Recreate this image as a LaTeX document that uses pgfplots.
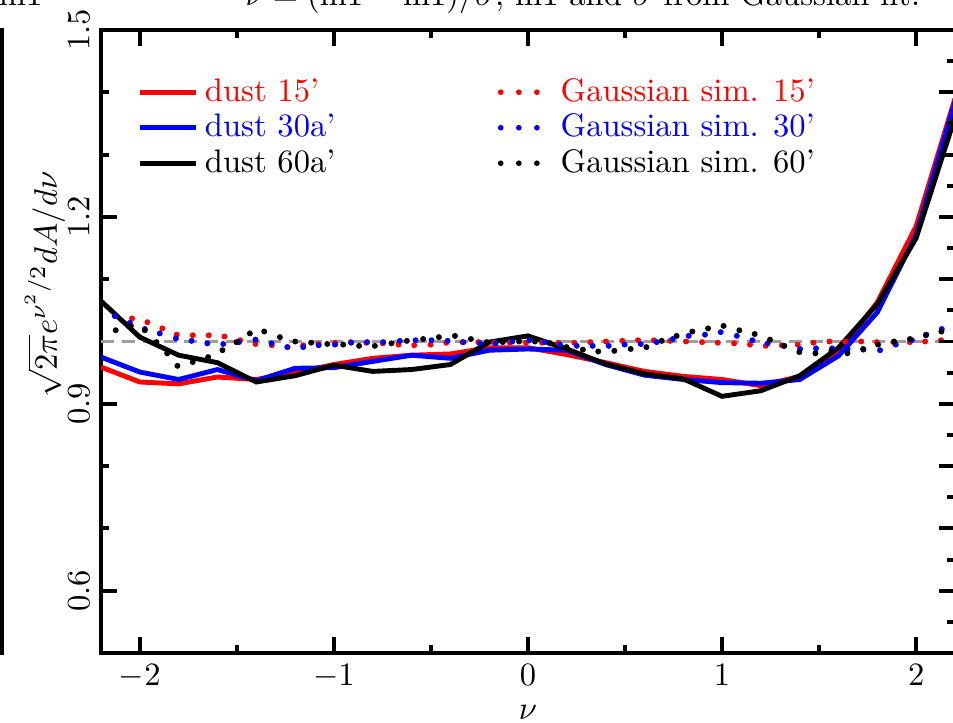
\documentclass[border=0pt]{standalone}
\usepackage{pgfplots}
\pgfplotsset{compat=1.18}
\usepackage{pgfplotstable}

% Dust area functional, three smoothing scales
\pgfplotstableread{
nu    d15    d30    d60
-2.2  0.959  0.975  1.065
-2.0  0.935  0.951  1.007
-1.8  0.932  0.939  0.978
-1.6  0.943  0.955  0.966
-1.4  0.939  0.937  0.935
-1.2  0.950  0.957  0.945
-1.0  0.963  0.958  0.962
-0.8  0.973  0.968  0.952
-0.6  0.978  0.978  0.955
-0.4  0.980  0.973  0.963
-0.2  0.990  0.986  0.999
 0.0  0.990  0.988  1.009
 0.2  0.979  0.986  0.988
 0.4  0.966  0.963  0.964
 0.6  0.952  0.946  0.948
 0.8  0.944  0.939  0.940
 1.0  0.939  0.934  0.912
 1.2  0.929  0.933  0.921
 1.4  0.944  0.939  0.945
 1.6  0.982  0.977  0.990
 1.8  1.063  1.047  1.060
 2.0  1.185  1.171  1.166
 2.2  1.390  1.385  1.360
}\dust

% Gaussian simulations, 15'
\pgfplotstableread{
nu     a
-2.129 1.041
-2.040 1.037
-1.961 1.031
-1.884 1.021
-1.810 1.011
-1.727 1.010
-1.645 1.010
-1.564 1.008
-1.483 1.002
-1.404 0.996
-1.320 0.994
-1.239 0.991
-1.158 0.994
-1.080 0.996
-0.994 0.998
-0.913 0.999
-0.833 0.998
-0.748 0.997
-0.667 0.995
-0.586 0.994
-0.502 0.995
-0.421 0.998
-0.338 0.999
-0.256 0.999
-0.175 0.998
-0.093 0.998
-0.010 0.998
 0.072 0.998
 0.156 0.998
 0.239 0.998
 0.321 0.999
 0.402 1.000
 0.486 1.001
 0.567 1.002
 0.649 1.002
 0.732 1.001
 0.814 1.000
 0.897 0.999
 0.978 0.998
 1.062 0.997
 1.144 0.995
 1.225 0.993
 1.308 0.994
 1.390 0.995
 1.471 0.998
 1.553 1.000
 1.634 1.000
 1.717 1.000
 1.797 0.999
 1.882 0.999
 1.967 0.999
 2.046 1.000
 2.128 1.002
}\simA

% Gaussian simulations, 30'
\pgfplotstableread{
nu     a
-2.129 1.041
-2.051 1.030
-1.974 1.020
-1.897 1.013
-1.814 1.005
-1.733 1.001
-1.652 0.997
-1.570 0.996
-1.489 0.999
-1.404 1.003
-1.321 0.997
-1.240 0.991
-1.158 0.991
-1.078 0.994
-0.994 0.995
-0.911 0.998
-0.829 0.999
-0.746 0.999
-0.660 1.001
-0.579 1.002
-0.497 1.002
-0.414 1.001
-0.333 0.999
-0.247 0.997
-0.167 0.997
-0.081 1.000
 0.007 1.002
 0.084 0.999
 0.165 0.995
 0.251 0.993
 0.333 0.993
 0.416 0.993
 0.498 0.995
 0.581 0.996
 0.663 0.999
 0.746 1.004
 0.828 1.009
 0.912 1.011
 0.993 1.015
 1.076 1.009
 1.156 1.002
 1.235 0.997
 1.316 0.993
 1.402 0.988
 1.484 0.989
 1.567 0.989
 1.647 0.988
 1.728 0.987
 1.814 0.986
 1.895 0.995
 1.978 1.002
 2.052 1.011
 2.132 1.020
}\simB

% Gaussian simulations, 60'
\pgfplotstableread{
nu     a
-2.124 1.018
-2.046 1.025
-1.974 1.018
-1.914 0.999
-1.859 0.981
-1.806 0.961
-1.727 0.967
-1.648 0.975
-1.574 0.986
-1.502 0.999
-1.433 1.013
-1.359 1.016
-1.278 1.007
-1.199 1.000
-1.117 0.998
-1.034 0.996
-0.952 0.995
-0.870 0.993
-0.789 0.993
-0.703 0.997
-0.624 1.001
-0.540 1.004
-0.459 1.007
-0.376 1.009
-0.294 1.004
-0.213 0.999
-0.130 0.999
-0.046 1.000
 0.036 1.000
 0.113 0.997
 0.199 0.991
 0.283 0.987
 0.362 0.984
 0.445 0.985
 0.529 0.988
 0.610 0.991
 0.689 1.001
 0.766 1.009
 0.847 1.016
 0.928 1.021
 1.008 1.025
 1.089 1.018
 1.168 1.012
 1.247 1.003
 1.321 0.993
 1.398 0.983
 1.481 0.981
 1.563 0.985
 1.646 0.981
 1.727 0.988
 1.804 0.995
 1.886 1.000
 1.968 1.004
 2.050 1.010
 2.130 1.016
}\simC

\pgfplotsset{
  simdots/.style={
    legend image code/.code={
      \path (0cm,0cm) (0.6cm,0cm);
      \fill (0.03cm,0cm) circle (0.65pt) (0.225cm,0cm) circle (0.65pt) (0.42cm,0cm) circle (0.65pt);
    }
  }
}

\begin{document}
\begin{tikzpicture}
\begin{axis}[
  name=main,
  scale only axis,
  width=262.2pt, height=191.3pt,
  xmin=-2.2, xmax=2.2, ymin=0.5, ymax=1.5,
  xtick={-2,-1,0,1,2},
  minor xtick={-1.5,-0.5,0.5,1.5},
  ytick={0.6,0.9,1.2,1.5},
  minor ytick={0.7,0.8,1.0,1.1,1.3,1.4},
  ytick pos=left,
  tick align=inside,
  major tick length=4.9pt,
  minor tick length=2.6pt,
  tick style={black, line width=1.2pt},
  axis line style={line width=1.2pt},
  yticklabel style={rotate=90, anchor=south,
    /pgf/number format/.cd, fixed, fixed zerofill, precision=1},
  xlabel={$\nu$},
  xlabel style={at={(axis description cs:0.5,0)}, anchor=base, yshift=-20.3pt},
  ylabel={$\sqrt{2\pi}e^{\nu^2/2}dA/d\nu$},
  ylabel style={at={(axis description cs:-0.0656,0.591)}, anchor=center},
  legend columns=2,
  legend cell align=left,
  legend style={
    at={(rel axis cs:0.0433,0.925)}, anchor=north west,
    draw=none, fill=none, inner sep=0pt, outer sep=0pt,
    row sep=1.35pt,
    nodes={inner ysep=0.5pt},
    /tikz/every even column/.append style={column sep=47.7pt},
  },
]
\addlegendimage{red, line width=1.5pt}
\addlegendentry{\textcolor{red}{dust 15'}}
\addlegendimage{red, simdots}
\addlegendentry{\textcolor{red}{Gaussian sim. 15'}}
\addlegendimage{blue, line width=1.5pt}
\addlegendentry{\textcolor{blue}{dust 30a'}}
\addlegendimage{blue, simdots}
\addlegendentry{\textcolor{blue}{Gaussian sim. 30'}}
\addlegendimage{black, line width=1.5pt}
\addlegendentry{dust 60a'}
\addlegendimage{black, simdots}
\addlegendentry{Gaussian sim. 60'}

% reference level of a Gaussian field
\addplot[forget plot, black!38, line width=0.75pt, dash pattern=on 4pt off 2.4pt]
  coordinates {(-2.2,1) (2.2,1)};

\addplot[forget plot, only marks, mark=*, mark size=0.7pt, red] table[x=nu, y=a] {\simA};
\addplot[forget plot, only marks, mark=*, mark size=0.7pt, blue] table[x=nu, y=a] {\simB};
\addplot[forget plot, only marks, mark=*, mark size=0.7pt, black] table[x=nu, y=a] {\simC};

\addplot[forget plot, red, line width=1.5pt] table[x=nu, y=d15] {\dust};
\addplot[forget plot, blue, line width=1.5pt] table[x=nu, y=d30] {\dust};
\addplot[forget plot, black, line width=1.5pt] table[x=nu, y=d60] {\dust};
\end{axis}

% right-hand axis ticks
\begin{axis}[
  scale only axis,
  width=262.2pt, height=191.3pt,
  xmin=-2.2, xmax=2.2, ymin=0.5, ymax=1.5,
  axis x line=none,
  axis y line*=right,
  tick align=inside,
  ytick={0.6,0.7,0.8,0.9,1.0,1.1,1.2,1.3,1.4},
  minor ytick={0.55,0.65,0.75,0.85,0.95,1.05,1.15,1.25,1.35,1.45},
  yticklabels={},
  major tick length=4.9pt,
  minor tick length=2.6pt,
  tick style={black, line width=1.2pt},
  axis line style={line width=1.2pt},
]
\end{axis}

% panel title and the neighbouring panel's frame edge
\node[anchor=base west, inner sep=0pt] at ([xshift=44.2pt, yshift=7.4pt]main.north west)
  {$\nu=(\mathrm{m1}-\overline{\mathrm{m1}})/\sigma$, $\overline{\mathrm{m1}}$ and $\sigma$ from Gaussian fit.};
\node[anchor=base east, inner sep=0pt] at ([xshift=-17.8pt, yshift=7.4pt]main.north west) {m1};
\draw[line width=1.2pt] ([xshift=-30.5pt, yshift=-0.6pt]main.south west) -- ([xshift=-30.5pt, yshift=0.6pt]main.north west);

\pgfresetboundingbox
\path[use as bounding box] ([xshift=-31pt, yshift=-21.2pt]main.south west) rectangle ([xshift=-0.6pt, yshift=9.2pt]main.north east);
\end{tikzpicture}
\end{document}
